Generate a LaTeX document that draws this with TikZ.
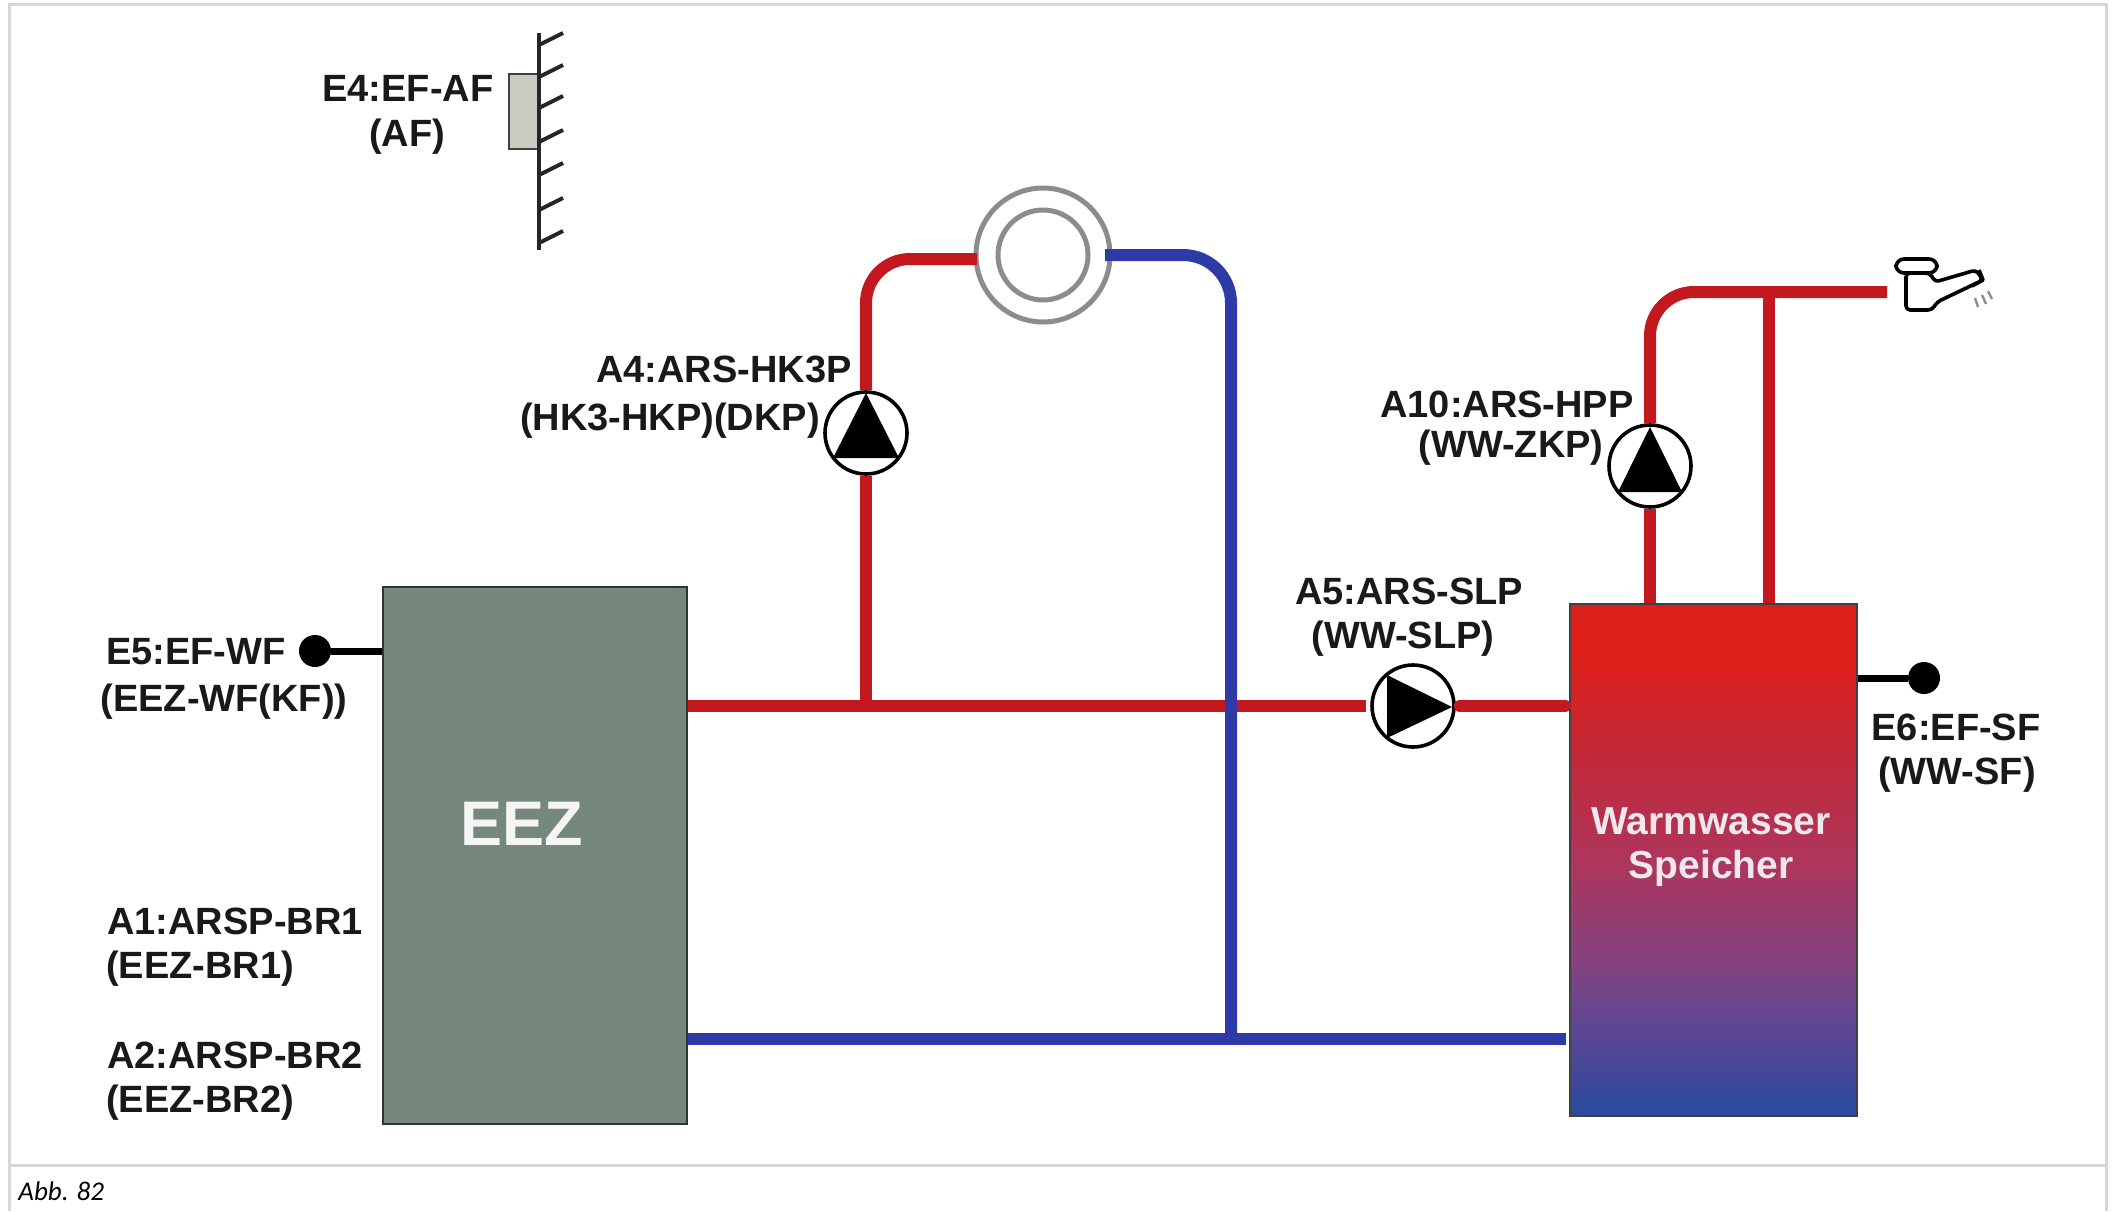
\documentclass[tikz,border=0pt]{standalone}
\usepackage{fontspec}
\setmainfont{Liberation Sans}
\newfontfamily\capfont{Carlito}
\definecolor{pipered}{HTML}{C4181F}
\definecolor{pipeblue}{HTML}{2E3BA6}
\pgfdeclareverticalshading{tankfill}{100bp}{%
 rgb(0bp)=(0.17,0.29,0.62);
 rgb(25bp)=(0.17,0.29,0.62);
 rgb(27bp)=(0.19,0.29,0.62);
 rgb(28bp)=(0.24,0.28,0.60);
 rgb(34bp)=(0.37,0.28,0.58);
 rgb(40bp)=(0.52,0.26,0.50);
 rgb(50bp)=(0.68,0.21,0.36);
 rgb(60bp)=(0.76,0.16,0.22);
 rgb(70bp)=(0.87,0.12,0.10);
 rgb(73bp)=(0.87,0.12,0.10);
 rgb(75bp)=(0.84,0.13,0.12);
 rgb(100bp)=(0.84,0.13,0.12)}
\tikzset{
 lbl/.style={font=\bfseries\fontsize{19pt}{20pt}\selectfont,text=black!90,inner sep=0pt},
 redpipe/.style={draw=pipered,line width=6pt,line cap=butt},
 bluepipe/.style={draw=pipeblue,line width=6pt,line cap=butt},
 wire/.style={draw=black,line width=3.5pt},
 pumpcirc/.style={circle,draw=black,line width=1.8pt,fill=white,minimum size=41pt,inner sep=0pt},
 sensordot/.style={circle,fill=black,minimum size=16pt,inner sep=0pt},
 frameline/.style={draw=black!16,line width=1.5pt},
 gridcirc/.style={circle,draw=black!45,line width=2.5pt,fill=white,inner sep=0pt},
 tapline/.style={draw=black,line width=1.8pt,line join=round},
 spray/.style={draw=black!45,line width=1.2pt}
}
\begin{document}
\begin{tikzpicture}[x=0.5pt,y=-0.5pt]
\useasboundingbox (0,0) rectangle (2114,1211);
\fill[white] (0,0) rectangle (2114,1211);
% frame
\coordinate (ftl) at (9,4); \coordinate (ftr) at (2106,4);
\coordinate (fbl) at (9,1211); \coordinate (fbr) at (2106,1211);
\coordinate (fml) at (9,1165); \coordinate (fmr) at (2106,1165);
\draw[frameline] (fbl) -- (ftl) -- (ftr) -- (fbr);
\draw[frameline] (fml) -- (fmr);
\node[anchor=west,inner sep=0pt,font=\capfont\itshape\fontsize{13.5pt}{15pt}\selectfont] (caption) at (18,1191) {Abb. 82};

% main blocks
\node[draw=black!80,line width=1.2pt,fill={rgb,255:red,117;green,136;blue,123},minimum width=152pt,minimum height=268.5pt,inner sep=0pt,anchor=north west] (eez) at (382,586) {};
\node[font=\bfseries\fontsize{31.5pt}{33pt}\selectfont,text=white!96!black,inner sep=0pt] (eeztext) at (522,824) {EEZ};
\node[draw=black!75,line width=1pt,shading=tankfill,minimum width=143.5pt,minimum height=255.8pt,inner sep=0pt,anchor=north west] (tank) at (1569,603) {};
\node[font=\bfseries\fontsize{19.5pt}{22.3pt}\selectfont,text={rgb,255:red,240;green,232;blue,236},align=center,inner sep=0pt] (tanktext) at (1711,847) {Warmwasser\\Speicher};

% pumps and radiator as anchors
\coordinate (j1) at (866,706);
\coordinate (j3) at (1231,1039);
\node[pumpcirc] (p4) at (866,433) {};
\node[pumpcirc] (p5) at (1413,706) {};
\node[pumpcirc] (p10) at (1650,466) {};
\node[gridcirc,minimum size=67pt] (rad) at (1043,255) {};
\node[gridcirc,minimum size=45pt] (radin) at (1043,255) {};
\coordinate (redl) at (977,259);
\coordinate (redc) at (866,259);
\coordinate (bluel) at (1105,255);
\coordinate (bluec) at (1231,255);
\coordinate (t1) at (1650,603);
\coordinate (t2) at (1769,603);
\coordinate (topc) at (1650,292);
\coordinate (topj) at (1769,292);
\coordinate (tapend) at (1887,292);
\coordinate (redtank) at (1565,706);

% pipes
\draw[redpipe,shorten >=2pt] (eez.east |- j1) -- (p5.west);
\draw[redpipe,shorten <=2pt,line cap=round] (p5.east) -- (redtank);
\draw[redpipe] (j1) -- (p4.south);
\draw[redpipe,rounded corners=22pt] (p4.north) -- (redc) -- (redl);
\draw[bluepipe] (eez.east |- j3) -- (1566,1039) coordinate (bluetank);
\draw[bluepipe,rounded corners=24pt] (bluel) -- (bluec) -- (j3);
\draw[redpipe] (t1) -- (p10.south);
\draw[redpipe,rounded corners=22pt] (p10.north) -- (topc) -- (tapend);
\draw[redpipe] (t2) -- (topj);

% pump glyphs
\fill[black] (866,393) -- (899,458) -- (833,458) -- cycle;
\fill[black] (1650,427) -- (1682,492) -- (1618,492) -- cycle;
\fill[black] (1452,707) -- (1387,675) -- (1387,738) -- cycle;

% sensors
\node[sensordot] (e5) at (315,651) {};
\node[sensordot] (e6) at (1924,678) {};
\draw[wire] (e5) -- (eez.west |- e5);
\draw[wire] (tank.east |- e6) -- (e6);

% wall sensor
\node[draw=black!75,line width=1.1pt,fill={rgb,255:red,200;green,203;blue,192},minimum width=15.5pt,minimum height=37.5pt,inner sep=0pt,anchor=north west] (e4) at (508,73) {};
\coordinate (walltop) at (539,33);
\coordinate (wallbot) at (539,250);
\draw[black!85,line width=2pt] (walltop) -- (wallbot);
\foreach \yy in {45,77,108,142,175,210,243}
  \draw[black!85,line width=2pt] (539,\yy) -- ++(24,-12);

% tap
\draw[tapline,fill=white,rounded corners=2pt] (1906,273) -- (1906,310) -- (1932,310) -- (1937,302) -- (1983,280) -- (1976,270) -- (1935,282) -- (1930,273) -- cycle;
\draw[tapline,fill=white,rounded corners=4pt] (1896,259) rectangle (1937,273);
\draw[tapline] (1972,286) -- (1983,280) -- (1979,270);
\draw[spray] (1975,298) -- (1978,307);
\draw[spray] (1982,295) -- (1986,304);
\draw[spray] (1988,291) -- (1992,299);

% labels
\node[lbl] (l4a) at (408,88) {E4:EF-AF};
\node[lbl] (l4b) at (407,137) {(AF)};
\node[lbl] (la4a) at (724,369) {A4:ARS-HK3P};
\node[lbl] (la4b) at (670,421) {(HK3-HKP)(DKP)};
\node[lbl] (la10a) at (1507,404) {A10:ARS-HPP};
\node[lbl] (la10b) at (1511,448) {(WW-ZKP)};
\node[lbl] (la5a) at (1409,591) {A5:ARS-SLP};
\node[lbl] (la5b) at (1403,639) {(WW-SLP)};
\node[lbl] (le5a) at (196,652) {E5:EF-WF};
\node[lbl] (le5b) at (224,702) {(EEZ-WF(KF))};
\node[lbl] (le6a) at (1956,727) {E6:EF-SF};
\node[lbl] (le6b) at (1957,775) {(WW-SF)};
\node[lbl] (la1a) at (235,921) {A1:ARSP-BR1};
\node[lbl] (la1b) at (200,969) {(EEZ-BR1)};
\node[lbl] (la2a) at (235,1055) {A2:ARSP-BR2};
\node[lbl] (la2b) at (200,1103) {(EEZ-BR2)};
\end{tikzpicture}
\end{document}
